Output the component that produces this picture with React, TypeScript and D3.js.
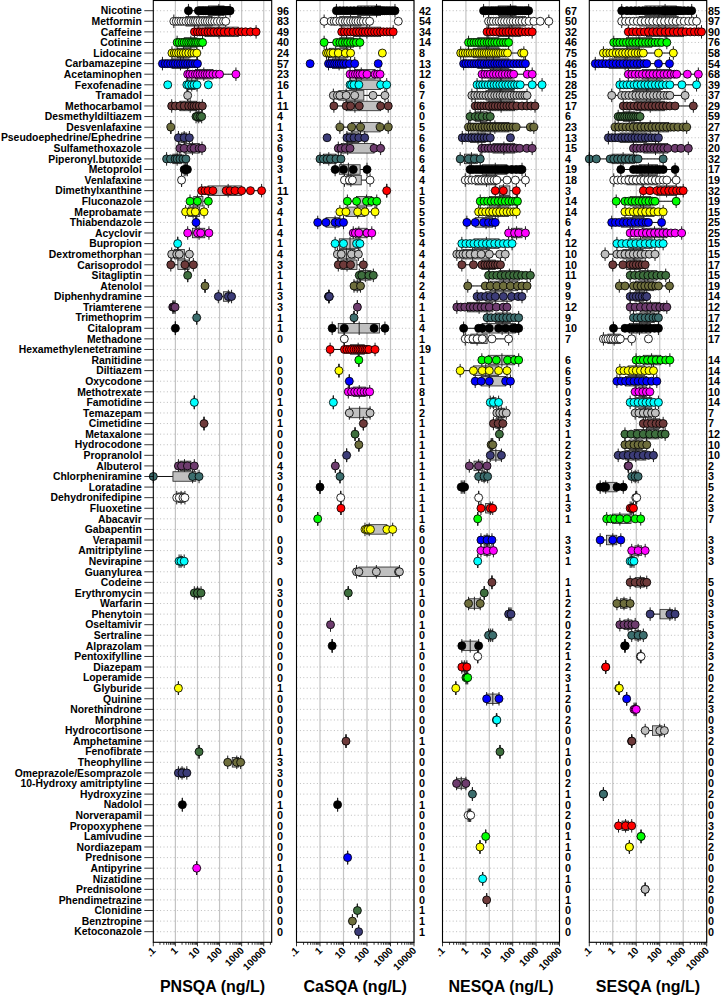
import React from "react";
import * as d3 from "d3";

const compounds = ["Nicotine","Metformin","Caffeine","Cotinine","Lidocaine","Carbamazepine","Acetaminophen","Fexofenadine","Tramadol","Methocarbamol","Desmethyldiltiazem","Desvenlafaxine","Pseudoephedrine/Ephedrine","Sulfamethoxazole","Piperonyl.butoxide","Metoprolol","Venlafaxine","Dimethylxanthine","Fluconazole","Meprobamate","Thiabendazole","Acyclovir","Bupropion","Dextromethorphan","Carisoprodol","Sitagliptin","Atenolol","Diphenhydramine","Triamterene","Trimethoprim","Citalopram","Methadone","Hexamethylenetetramine","Ranitidine","Diltiazem","Oxycodone","Methotrexate","Famotidine","Temazepam","Cimetidine","Metaxalone","Hydrocodone","Propranolol","Albuterol","Chlorpheniramine","Loratadine","Dehydronifedipine","Fluoxetine","Abacavir","Gabapentin","Verapamil","Amitriptyline","Nevirapine","Guanylurea","Codeine","Erythromycin","Warfarin","Phenytoin","Oseltamivir","Sertraline","Alprazolam","Pentoxifylline","Diazepam","Loperamide","Glyburide","Quinine","Norethindrone","Morphine","Hydrocortisone","Amphetamine","Fenofibrate","Theophylline","Omeprazole/Esomprazole","10-Hydroxy amitriptyline","Hydroxyzine","Nadolol","Norverapamil","Propoxyphene","Lamivudine","Nordiazepam","Prednisone","Antipyrine","Nizatidine","Prednisolone","Phendimetrazine","Clonidine","Benztropine","Ketoconazole"];

const pnsqaValues: number[][] = [
  [3.9,11,13,16,19,23,28,35,45,55,65,75,85,90,95,100,110,115,130,140,150,170,180,200,230,250,270,300],
  [0.85,1.1,1.4,1.8,2.3,3,4,5,6.5,8,10,13,17,22,28,36,46,60,80,110,150,190],
  [7.3,10,13,17,22,30,40,55,80,110,160,250,400,700,1000,1500,2500,4500],
  [1.2,1.5,2,2.5,3.2,4,5,6,7.5,9,11,14,17],
  [0.7,0.9,1.1,1.4,1.8,2.3,3,4,5.5,7,9.3],
  [0.26,0.35,0.45,0.6,0.8,1,1.3,1.7,2.2,2.8,3.6,4.7,6,8,10],
  [3.6,4.5,6,8,10,13,17,22,28,36,50,70,100,550],
  [0.45,3.3,4,5.5,7,9.5,31],
  [3.6],
  [0.68,1,1.6,2.5,4,5.5,7,9,12,16.6],
  [8.6,10,13,15.5],
  [0.62],
  [1.37,2.5,4.3],
  [1.6,2.5,5,7,12,16],
  [0.4,0.6,0.97,1.2,1.6,2.2,3],
  [2.5,3,3.5],
  [1.9],
  [15.5,22,30,50,200,300,500,1000,2500,8000],
  [4.6,10,31],
  [2.9,5,8,19.8],
  [8.6],
  [3.6,10,14,33],
  [1.27],
  [0.68,1.15,1.5,4.3],
  [0.62,2.7,6.5],
  [3.6],
  [22],
  [88,250,350],
  [0.76,0.85,0.97],
  [9.2],
  [1.0],
  [],[],[],[],[],[],
  [7.2],
  [],
  [19.8],
  [],[],[],
  [1.37,1.9,3.5,7.2],
  [0.1,6,11.8],
  [],
  [1.15,1.5,2.2,2.7],
  [],[],[],[],[],
  [1.47,1.8,2.5],
  [],[],
  [7.2,10,14.5],
  [],[],[],[],[],[],[],[],
  [1.37],
  [],[],[],[],[],
  [11.8],
  [234,600,900],
  [1.37,2,3.3],
  [],[],
  [2.07],
  [],[],[],[],[],
  [9.2],
  [],[],[],[],[],[]
];

const casqaValues: number[][] = [
  [5,7,10,14,20,28,40,56,80,110,160,220,250,260,270,280,290,300,330,380,450,550,700,900,1200,1550],
  [1.5,3,4,5,7,9,12,15,20,26,33,42,55,70,95,130,2150],
  [8.4,11,15,20,27,36,48,65,85,115,155,210,280,380,500,700,950,1300],
  [1.5,5.1,7,9,12,15,20,27,35,50],
  [1.9,2.3,2.8,3.6,6,12,20,450],
  [0.38,2.3,2.8,3.4,4.2,5.2,6.5,8,10,13,18,30,300],
  [19,25,32,40,50,65,100,220,280,360],
  [19,22,28,45,380,690],
  [3.7,5.5,7,13,30,180,580],
  [3.9,13,20,47,380,800],
  [],
  [7,22,53,360,800],
  [2,14,19,28,45,80],
  [6,8,12,19,200,380],
  [1,1.4,2,2.8,4.8,7.8],
  [4.4,10,26,100],
  [11,17.7,24,135],
  [690],
  [14.6,36,95,160,260],
  [7,12.7,40,82,220],
  [0.8,1.8,4.4,6.5,10],
  [26,32,45,100,160],
  [4.4,10,36,50],
  [5.5,8,22,43],
  [6,10,20,70],
  [47,60,120,186],
  [28,53],
  [2.3,2.4,2.4,2.5],
  [39],
  [28],
  [3.3,10.8,200,580],
  [10.8],
  [2.7,11,14,18,22,28,35,42,50,60,70,85,100,120,220],
  [45],
  [6.4],
  [17.7],
  [16,22,30,40,55,75,100,130],
  [3.7],
  [17.7,135],
  [70],
  [31],
  [45],
  [13.6],
  [4.5],
  [7.1],
  [1.0],
  [7.6],
  [7.8],
  [0.8],
  [82,95,110,140,700,1240],
  [],[],[],
  [36,45,250,2200,2400],
  [],
  [16],
  [],[],
  [2.8],
  [],
  [3.3],
  [],[],[],[],[],[],[],[],
  [12.8],
  [],[],[],[],[],
  [5.6],
  [],[],[],[],
  [15],
  [],[],[],[],
  [39],
  [24],
  [44]
];

const nesqaValues: number[][] = [
  [5.7,7,9,12,15,19,24,30,38,48,60,70,80,90,95,100,115,120,140,170,210,260,330,400,480],
  [9.3,12,15,20,26,34,45,60,80,105,140,190,250,350,500,800,1500,3500],
  [8,11,15,20,28,38,52,70,95,130,180,250,350,480,680],
  [1.3,1.7,2.2,2.8,3.6,4.6,6,8,10,13,17,22,30,40,52,67],
  [0.6,0.75,0.95,1.2,1.5,1.9,2.4,3,3.8,4.8,6,7.5,9.5,12,15,19,24,30,38,48,60,240,300],
  [0.8,1,1.3,1.7,2.2,2.8,3.6,4.6,6,8,10,13,17,22,28,36,46,60,80,110,150,200,270,350],
  [4.9,6.5,8.5,11,15,20,27,36,48,65,85,110,420,680],
  [3,4,5.2,6.8,9,12,16,21,28,37,50,66,90,120,160,210,680,1800],
  [1.8,2.4,3.2,4.2,5.5,7.2,9.5,12.5,17,22,29,38,50,66,87,115,150,200,260,330,410],
  [2.5,3.3,4.4,5.8,7.7,10,14,18,24,32,42,56,75,100,150,250,400,600,900],
  [1.5,2.5,3.5,5,8,11],
  [1.3,1.7,2.2,2.9,3.8,5,6.6,8.7,11.5,15,20,26,35,46,60,80,105,140,570,800],
  [0.7,0.95,1.3,1.8,2.4,3.3,4.5,6,8,11,80],
  [4.8,6.5,9,12,17,23,31,42,57,78,105,145,200,400,680],
  [0.57,1.3,2.3,4.1],
  [1.5,2,2.8,3.8,5,7,9.5,13,18,24,33,45,57,93,140,200,250],
  [0.94,1.3,1.8,2.5,3.4,4.7,6.5,9,12,16,21,57,130,350],
  [18,40,143],
  [4.1,6,8.5,12,17,24,34,48,68,95,130,160],
  [3.5,5,7,10,14,20,28,40,57,80,110,143],
  [1.1,2.5,5.7,9.3,14,18],
  [67,120,180,350],
  [0.67,1,1.5,2.2,3.3,5,7.5,11,17,26,40,60,94],
  [0.41,0.55,0.75,1,1.5,2.5,4.5,10,28,48],
  [0.67,2.1,4.8,6.5,8.5,11,14,18,23,30],
  [9.3,14,21,32,48,72,110,160,240,360,570],
  [1.2,6.7,11,21,40,80,160,250,410],
  [3,4.5,7,11,18,40,90,170,250],
  [0.41,0.6,0.9,1.5,2.1,3,4.5,6.5,10,20,40,57],
  [8,12,18,26,38,55,80,120,180],
  [0.8,3.5,4.9,10,25,50,100,130,160,180],
  [0.94,1.3,2,3,5,13,67],
  [],
  [4.8,9,20,60,120,180],
  [0.57,2.1,5,10,25,57],
  [2.5,4.5,10,50,80],
  [],
  [11,15,25],
  [21,28,38,53],
  [15,24,38],
  [27],
  [12,14],
  [11,33],
  [1.4,3.5,8],
  [3.5,6,8.5],
  [0.63,0.75,0.88],
  [3.5],
  [4.4,11,14],
  [3.2],
  [],
  [4.4,8,13],
  [4.4,8,15],
  [3.2],
  [],
  [13],
  [6.1],
  [1.3,4.1],
  [67,85],
  [],
  [9.3,14],
  [0.67,3.5],
  [3.2],
  [0.67,1.1],
  [1,1.1,1.2],
  [0.37],
  [7.7,26],
  [],
  [20,21],
  [],[],
  [28.6],
  [],[],
  [0.4,1],
  [1.9],
  [],
  [1.25,1.6],
  [],
  [7],
  [4],
  [],[],
  [5.2],
  [],
  [7.7],
  [],[],[]
];

const sesqaValues: number[][] = [
  [2.4,4,6,9,13,19,28,40,60,90,130,150,190,220,280,330,400,480,560,650,800,1100,1600,2300],
  [2.4,3.5,5,7.5,11,16,24,35,50,75,110,160,240,350,500,750,1100,1700,2500,3700],
  [4.6,7,10,15,22,33,50,75,110,170,250,380,560,850,1300,2000,3000,4500,6000],
  [1.1,1.5,2,2.8,3.8,5.2,7,9.5,13,18,25,34,46,63,86,120,200],
  [0.4,0.55,0.75,1,1.4,1.9,2.6,3.5,4.8,6.5,9,12,16,20,88,380],
  [0.18,0.25,0.35,0.5,0.7,1,1.4,2,2.8,4,5.5,7.7,11,15,21,28,88,260],
  [4.6,6.5,9,13,18,26,37,52,75,105,150,210,300,420,530,1500,4400],
  [2,2.8,4,5.6,8,11,16,23,32,45,65,92,130,190,270,880,3700],
  [0.9,2.4,3.4,4.8,6.8,9.6,13.5,19,27,38,54,76,107,150,210,270,1200],
  [2.8,4,5.7,8,11.5,16,23,33,47,67,95,135,190,270,450,2700],
  [1.7,2.1,2.6,3.2,4,5,6.2,7.7,9.5,11.8,14.5],
  [1.25,1.8,2.6,3.7,5.3,7.6,11,16,23,33,47,68,97,140,200,290,400,600,1000,1400],
  [0.65,0.9,1.25,1.7,2.4,3.3,4.6,6.4,8.8,12,17,24,33,46,63,88],
  [7.6,10.5,15,21,29,40,56,78,110,150,220,450,800,1650],
  [0.1,0.2,0.77,1.1,1.6,2.3,3.3,4.8,7,10,12,140],
  [2.2,7.6,11,16,23,33,47,68,97,140,450],
  [1.1,1.6,2.3,3.3,4.8,7,10,15,21,31,45,65,95,140,200,500],
  [20,38,75,110,160,240,350,520,750,1000],
  [1.4,3.3,4.6,6.5,9,13,18,25,35,50,63,500],
  [3.3,5,7.5,11,17,25,38,57,85,140],
  [0.9,1.3,1.9,2.8,4,5.9,8.6,12.5,18,26,33,120],
  [5.5,8.2,12,18,27,40,60,90,135,200,300,450,860],
  [1.5,2.4,3.8,6,9.5,15,24,38,60,95,140],
  [0.47,1.5,2.2,3.3,5,7.5,11,16,24,36,63],
  [1,2.7,5.5,7.5,10,13.5,18,24],
  [5.5,8.5,13,20,31,48,75,115,180],
  [1.9,3.3,7.6,11,16,23,33,47,67,88,260],
  [5.5,7.5,10,13.5,18,24,28],
  [5.5,9,15,25,40,65,100,150,200],
  [7.6,11,16,24,35,52,70,88],
  [1.07,3.3,5,7.5,11,17,26,40,60,88],
  [0.4,0.5,0.62,0.8,1,1.3,1.7,2.1,6.4,33],
  [],
  [9.8,14,20,30,45,70,110,180,270],
  [2,3,4.5,7,10,15,23,35,54],
  [1.5,2.3,3.5,5.3,8,12,18,28,45,75],
  [9,13,19,27,38],
  [5.5,8,12,18,26,38,56,88],
  [9,13,20,30,45,65],
  [20,30,45,70,100,140],
  [3.3,6,11,20,37,65,120,170],
  [3.3,5,8,12,18,28],
  [1.7,2.8,4.5,7.5,12,20,33,54],
  [4.5,4.7],
  [6.4,9,12],
  [0.29,0.38,0.5,1.5,2.8],
  [9.5,10.5],
  [5.5,6.5,7.6],
  [0.55,0.8,1.2,2,4,9,15.5],
  [],
  [0.29,1,2.2],
  [6.4,12,24],
  [5.5,6.5,8],
  [],
  [5.5,9,15,22,28],
  [],
  [1.5,3,5.5],
  [39,270,450],
  [2,3,4.5,6.5,9],
  [6.4,12,20],
  [3.2,3.4],
  [15,15.5,16],
  [0.5,0.5],
  [],
  [1.8,1.9],
  [3.9],
  [8,9,10],
  [],
  [24,100,158],
  [6.3,6.5],
  [],[],[],[],
  [0.4,0.4],
  [],[],
  [1.75,3.5,6.4],
  [16,16],
  [5.1,5.1],
  [],[],[],
  [24,24],
  [],[],[],[]
];

const N = null;
const pnsqaCounts = [96,83,49,40,24,57,23,16,1,11,4,1,3,6,9,3,1,11,3,4,1,4,1,4,3,1,1,3,3,1,1,0,N,0,0,0,0,1,0,1,0,0,0,4,3,0,4,0,0,N,0,0,3,N,0,3,0,0,0,0,0,0,0,0,1,0,0,0,0,0,1,3,3,0,0,1,0,0,0,0,0,1,0,0,0,0,0,0];
const casqaCounts = [42,54,34,14,8,13,12,6,7,6,0,5,6,6,6,4,4,1,5,5,5,5,4,4,4,4,2,4,1,1,4,1,19,1,1,1,8,1,2,1,1,1,1,1,1,1,1,1,1,6,0,0,0,5,0,1,0,0,1,0,1,0,0,0,0,0,0,0,0,1,0,0,0,0,0,1,0,0,0,0,1,0,0,0,0,1,1,1];
const nesqaCounts = [67,50,32,46,75,46,15,28,25,17,6,23,13,15,4,19,18,3,14,14,6,4,12,10,10,11,9,9,12,9,10,7,N,6,6,5,0,3,4,3,1,2,2,3,3,3,1,3,1,N,3,3,1,N,1,1,2,2,0,2,2,1,2,3,1,2,0,2,0,0,1,0,0,2,1,0,2,0,1,1,0,0,1,0,1,0,0,0];
const sesqaCounts = [85,97,90,76,58,54,68,39,37,29,59,27,37,20,32,17,19,32,19,15,25,25,15,15,17,15,19,14,12,17,12,17,N,14,14,14,10,14,7,7,12,10,10,2,3,5,2,3,7,N,3,3,3,N,5,0,3,3,5,3,2,3,2,0,2,2,3,0,3,2,0,0,0,0,2,0,0,3,2,2,0,0,0,2,0,0,0,0];

const tickValues = [0.1, 1, 10, 100, 1000, 10000];
const tickLabels = [".1", "1", "10", "100", "1000", "10000"];
const panelTitles = ["PNSQA (ng/L)", "CaSQA (ng/L)", "NESQA (ng/L)", "SESQA (ng/L)"];

const palette = ["#000000","#ffffff","#ff0000","#00ff00","#ffff00","#0000ff","#ff00ff","#00ffff","#bebebe","#6e3a3a","#3d6e3d","#6e6e3c","#3c3c78","#6e3c6e","#3c6e6e"];

const panelLayout = [
  { x0: 153.3, x1: 271.7, maxV: Math.pow(10, 4.36), countX: 277 },
  { x0: 296.5, x1: 414, maxV: 10000, countX: 419 },
  { x0: 442.5, x1: 559.5, maxV: 10000, countX: 565 },
  { x0: 589.3, x1: 706.7, maxV: 10000, countX: 708 },
];
const panelValues = [pnsqaValues, casqaValues, nesqaValues, sesqaValues];
const panelCounts = [pnsqaCounts, casqaCounts, nesqaCounts, sesqaCounts];

const TOP = 0.5;
const BOTTOM = 942.3;

function boxStats(vals: number[]) {
  const x = vals.map((v) => Math.log10(v)).sort((a, b) => a - b);
  const n = x.length;
  const n4 = Math.floor((n + 3) / 2) / 2;
  const d = [1, n4, (n + 1) / 2, n + 1 - n4, n];
  const f = d.map((di) => 0.5 * (x[Math.floor(di) - 1] + x[Math.ceil(di) - 1]));
  const iqr = f[3] - f[1];
  const lo = f[1] - 1.5 * iqr;
  const hi = f[3] + 1.5 * iqr;
  const inside = x.filter((v) => v >= lo - 1e-9 && v <= hi + 1e-9);
  return {
    q1: Math.pow(10, f[1]),
    med: Math.pow(10, f[2]),
    q3: Math.pow(10, f[3]),
    wlo: Math.pow(10, d3.min(inside) as number),
    whi: Math.pow(10, d3.max(inside) as number),
  };
}

const rowY = d3.scaleLinear().domain([0, 87]).range([10.7, 931.7]);

function Panel({ idx }: { idx: number }) {
  const lay = panelLayout[idx];
  const x = d3.scaleLog().domain([0.1, lay.maxV]).range([lay.x0, lay.x1]).clamp(true);
  const values = panelValues[idx];
  const counts = panelCounts[idx];
  const minor: number[] = [];
  for (let e = -1; e <= 4; e++) {
    for (let m = 1; m <= 9; m++) {
      const v = m * Math.pow(10, e);
      if (v >= 0.1 - 1e-9 && v <= lay.maxV * 1.0001) minor.push(v);
    }
  }
  const cx = (lay.x0 + lay.x1) / 2;
  const boxH = 9.5;
  const stapleH = 13.5;
  return (
    <g>
      <rect x={lay.x0} y={TOP} width={lay.x1 - lay.x0} height={BOTTOM - TOP} fill="#fff" />
      {tickValues.slice(1).map((v) => (
        <line key={"g" + v} x1={x(v)} x2={x(v)} y1={TOP} y2={BOTTOM} stroke="#c4c4c4" strokeWidth={1.2} />
      ))}
      {compounds.map((c, i) => (
        <line key={"h" + i} x1={lay.x0} x2={lay.x1} y1={rowY(i)} y2={rowY(i)} stroke="#a0a0a0" strokeWidth={0.7} strokeDasharray="1 2.4" />
      ))}
      {values.map((vals, i) => {
        if (!vals || vals.length === 0) return null;
        const s = boxStats(vals);
        const y = rowY(i);
        const color = palette[i % palette.length];
        return (
          <g key={"r" + i}>
            <line x1={x(s.wlo)} x2={x(s.q1)} y1={y} y2={y} stroke="#111" strokeWidth={1} />
            <line x1={x(s.q3)} x2={x(s.whi)} y1={y} y2={y} stroke="#111" strokeWidth={1} />
            <line x1={x(s.wlo)} x2={x(s.wlo)} y1={y - stapleH / 2} y2={y + stapleH / 2} stroke="#222" strokeWidth={1} />
            <line x1={x(s.whi)} x2={x(s.whi)} y1={y - stapleH / 2} y2={y + stapleH / 2} stroke="#222" strokeWidth={1} />
            <rect x={x(s.q1)} y={y - boxH / 2} width={Math.max(0, x(s.q3) - x(s.q1))} height={boxH} fill="#c0c0c0" stroke="#222" strokeWidth={0.8} />
            <line x1={x(s.med)} x2={x(s.med)} y1={y - stapleH / 2} y2={y + stapleH / 2} stroke="#222" strokeWidth={1} />
            {vals.map((v, j) => (
              <circle key={j} cx={x(v)} cy={y} r={4} fill={color} stroke="#000" strokeWidth={0.85} />
            ))}
          </g>
        );
      })}
      <rect x={lay.x0} y={TOP} width={lay.x1 - lay.x0} height={BOTTOM - TOP} fill="none" stroke="#000" strokeWidth={1.1} />
      {minor.map((v, k) => {
        const major = tickValues.some((t) => Math.abs(t - v) < 1e-9);
        return (
          <line key={"m" + k} x1={x(v)} x2={x(v)} y1={BOTTOM} y2={BOTTOM + (major ? 4 : 2.5)} stroke="#000" strokeWidth={0.8} />
        );
      })}
      {tickValues.map((v, k) => {
        const tx = x(v) + 3;
        const ty = BOTTOM + 9;
        return (
          <text key={"t" + k} x={tx} y={ty} transform={`rotate(-45 ${tx} ${ty})`} textAnchor="end" fontSize={10} fontWeight="bold" fill="#000">
            {tickLabels[k]}
          </text>
        );
      })}
      <text x={cx} y={992} textAnchor="middle" fontSize={16} fontWeight="bold" fill="#000">
        {panelTitles[idx]}
      </text>
      {counts.map((c, i) =>
        c === null ? null : (
          <text key={"c" + i} x={lay.countX} y={rowY(i)} dy="0.36em" fontSize={10.8} fontWeight="bold" fill="#000">
            {c}
          </text>
        )
      )}
    </g>
  );
}

export default function App() {
  const x0 = panelLayout[0].x0;
  return (
    <svg width={724} height={999} style={{ position: "absolute", left: 0, top: 0, background: "#fff" }} fontFamily="'Liberation Sans', Arial, Helvetica, sans-serif">
      {[0, 1, 2, 3].map((i) => (
        <Panel key={i} idx={i} />
      ))}
      {compounds.map((c, i) => (
        <g key={"y" + i}>
          <line x1={x0 - 9} x2={x0} y1={rowY(i)} y2={rowY(i)} stroke="#000" strokeWidth={0.8} />
          <text x={x0 - 11.5} y={rowY(i)} dy="0.36em" textAnchor="end" fontSize={10.4} fontWeight="bold" fill="#000">
            {c}
          </text>
        </g>
      ))}
    </svg>
  );
}
